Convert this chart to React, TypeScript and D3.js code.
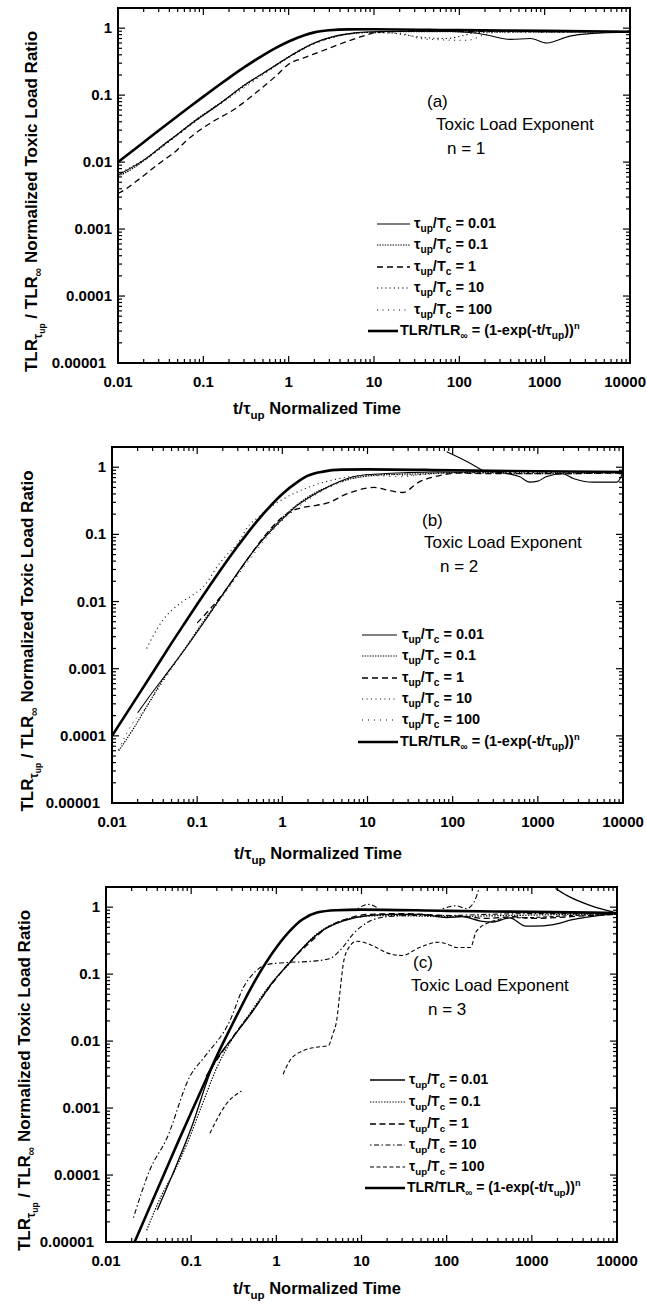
import React from "react";
import * as d3 from "d3";

type Pt = [number, number | null];

const X_TICK_VALUES = [0.01, 0.1, 1, 10, 100, 1000, 10000];
const X_TICK_LABELS = ["0.01", "0.1", "1", "10", "100", "1000", "10000"];
const Y_TICK_VALUES = [1, 0.1, 0.01, 0.001, 0.0001, 0.00001];
const Y_TICK_LABELS = ["1", "0.1", "0.01", "0.001", "0.0001", "0.00001"];
const TAU_RATIOS = ["0.01", "0.1", "1", "10", "100"];
const PANEL_LABELS = ["(a)", "(b)", "(c)"];
const EXPONENTS = ["1", "2", "3"];

// ---------- Panel (a), n = 1 ----------
const A_THEORY: Pt[] = [[0.01,0.01],[0.02,0.0198],[0.03,0.0296],[0.05,0.0488],[0.07,0.0676],[0.1,0.095],[0.15,0.139],[0.2,0.181],[0.3,0.259],[0.5,0.393],[0.7,0.503],[1,0.632],[1.5,0.777],[2,0.865],[3,0.93],[5,0.96],[10,0.965],[100,0.935],[1000,0.91],[10000,0.885]];
const A_TAU_001: Pt[] = [[0.01,0.0064],[0.02,0.0107],[0.04,0.021],[0.08,0.041],[0.15,0.072],[0.3,0.14],[0.6,0.245],[1,0.37],[2,0.6],[3.5,0.76],[6,0.85],[12,0.89],[50,0.9],[133,0.86],[210,0.79],[400,0.68],[680,0.7],[1060,0.6],[1970,0.76],[3400,0.83],[10000,0.87]];
const A_TAU_01: Pt[] = [[0.01,0.0062],[0.0121,0.0069],[0.0211,0.011],[0.0355,0.019],[0.048,0.025],[0.08,0.042],[0.12,0.06],[0.188,0.089],[0.29,0.137],[0.5,0.21],[0.86,0.33],[1.35,0.47],[2.15,0.62],[3.3,0.74],[5.6,0.83],[10.8,0.88],[30,0.89],[100,0.885],[1000,0.88],[10000,0.875]];
const A_TAU_1: Pt[] = [[0.01,0.0034],[0.0121,0.0039],[0.0158,0.005],[0.021,0.0066],[0.027,0.0085],[0.0355,0.011],[0.048,0.0147],[0.061,0.02],[0.08,0.0267],[0.12,0.038],[0.224,0.06],[0.42,0.11],[0.73,0.2],[1,0.29],[1.5,0.36],[2.5,0.46],[4,0.58],[7.4,0.76],[11,0.87],[30,0.9],[10000,0.88]];
const A_TAU_10: Pt[] = [[0.01,0.0066],[0.02,0.0108],[0.05,0.026],[0.1,0.051],[0.2,0.094],[0.5,0.21],[1,0.37],[2,0.6],[4,0.78],[8,0.86],[15,0.85],[25,0.78],[40,0.72],[70,0.7],[100,0.75],[150,0.85],[250,0.88],[10000,0.88]];
const A_TAU_100: Pt[] = [[0.01,0.006],[0.02,0.0104],[0.05,0.025],[0.1,0.049],[0.2,0.09],[0.5,0.2],[1,0.36],[2,0.58],[4,0.77],[8,0.86],[20,0.84],[35,0.7],[60,0.67],[95,0.66],[125,0.66],[200,0.8],[300,0.88],[10000,0.88]];

// ---------- Panel (b), n = 2 ----------
const B_THEORY: Pt[] = [[0.01,0.0001],[0.02,0.00039],[0.03,0.00087],[0.05,0.0024],[0.07,0.0046],[0.1,0.0091],[0.15,0.0194],[0.2,0.033],[0.3,0.067],[0.5,0.155],[0.7,0.253],[1,0.4],[1.5,0.6],[2,0.748],[3,0.86],[5,0.92],[10,0.93],[100,0.9],[1000,0.87],[10000,0.85]];
const B_TAU_001: Pt[] = [[0.02,0.00022],[0.03,0.00045],[0.045,0.00088],[0.075,0.0021],[0.13,0.0057],[0.24,0.018],[0.5,0.065],[0.96,0.16],[1.5,0.27],[2.5,0.41],[4,0.56],[7.5,0.74],[15,0.8],[30,0.83],[60,0.85],[120,0.85],[230,0.86],[400,0.82],[615,0.72],[800,0.6],[1000,0.62],[1250,0.72],[1950,0.8],[2600,0.68],[4500,0.6],[8500,0.6],[10000,0.85],[10000,null],[85,1.7],[150,1.2],[230,0.88]];
const B_TAU_01: Pt[] = [[0.012,0.00006],[0.018,0.00013],[0.025,0.00026],[0.04,0.0007],[0.07,0.0019],[0.12,0.0052],[0.22,0.015],[0.4,0.045],[0.7,0.11],[1.2,0.22],[2,0.36],[3.5,0.52],[6,0.66],[10,0.74],[20,0.78],[50,0.8],[100,0.83],[300,0.82],[1000,0.8],[10000,0.82]];
const B_TAU_1: Pt[] = [[0.1,0.0048],[0.2,0.013],[0.35,0.035],[0.6,0.09],[1,0.18],[1.5,0.24],[2.5,0.27],[3.6,0.3],[5.2,0.38],[7.5,0.45],[12,0.5],[18,0.45],[26,0.42],[40,0.6],[70,0.75],[110,0.82],[300,0.8],[1000,0.8],[10000,0.82]];
const B_TAU_10: Pt[] = [[0.0255,0.002],[0.0292,0.0028],[0.04,0.0054],[0.0516,0.0076],[0.0675,0.01],[0.0886,0.0125],[0.118,0.0166],[0.186,0.038],[0.222,0.049],[0.318,0.082],[0.38,0.122],[0.52,0.18],[0.65,0.23],[1,0.33],[2,0.5],[4,0.65],[8,0.75],[15,0.78],[30,0.76],[60,0.8],[150,0.83],[10000,0.84]];
const B_TAU_100: Pt[] = [[0.0119,0.000062],[0.0178,0.00016],[0.0237,0.00024],[0.035,0.0005],[0.06,0.0014],[0.1,0.0035],[0.2,0.012],[0.4,0.04],[0.8,0.12],[1.5,0.25],[3,0.45],[6,0.65],[12,0.75],[25,0.72],[50,0.8],[100,0.84],[10000,0.84]];

// ---------- Panel (c), n = 3 ----------
const C_THEORY: Pt[] = [[0.02,0.0000079],[0.03,0.000026],[0.05,0.000116],[0.07,0.00031],[0.1,0.00086],[0.15,0.0027],[0.2,0.006],[0.3,0.0171],[0.5,0.061],[0.7,0.127],[1,0.25],[1.5,0.465],[2,0.647],[3,0.83],[5,0.9],[10,0.92],[100,0.88],[1000,0.85],[10000,0.82]];
const C_TAU_001: Pt[] = [[0.04,0.00003],[0.06,0.0001],[0.1,0.0005],[0.18,0.0042],[0.31,0.0114],[0.53,0.028],[0.9,0.075],[1.44,0.15],[2.06,0.25],[3.5,0.45],[6,0.62],[12,0.75],[25,0.78],[50,0.78],[100,0.7],[150,0.72],[250,0.62],[350,0.6],[550,0.69],[850,0.52],[1030,0.52],[1800,0.55],[3000,0.65],[6000,0.75],[10000,0.8],[10000,null],[1900,1.9],[2570,1.5],[5200,1.03],[9000,0.85]];
const C_TAU_01: Pt[] = [[0.03,0.000015],[0.045,0.00005],[0.065,0.00012],[0.09,0.0003],[0.13,0.001],[0.2,0.004],[0.3,0.0105],[0.5,0.027],[0.85,0.07],[1.4,0.14],[2,0.24],[3,0.4],[5,0.58],[10,0.72],[20,0.75],[40,0.74],[100,0.72],[300,0.74],[1000,0.76],[10000,0.8]];
const C_TAU_1: Pt[] = [[0.15,0.003],[0.3,0.011],[0.5,0.026],[0.9,0.073],[1.5,0.16],[2.5,0.3],[4,0.5],[7,0.68],[12,0.78],[30,0.8],[80,0.76],[150,0.73],[300,0.68],[600,0.72],[1000,0.68],[2000,0.7],[4000,0.74],[10000,0.78]];
const C_TAU_10: Pt[] = [[0.021,0.000023],[0.0328,0.00012],[0.0516,0.00035],[0.097,0.003],[0.145,0.0059],[0.285,0.0201],[0.41,0.063],[0.58,0.112],[0.8,0.14],[1.44,0.15],[2.5,0.155],[4.2,0.17],[6,0.25],[8,0.4],[12,0.6],[20,0.72],[40,0.75],[100,0.75],[300,0.78],[1000,0.8],[10000,0.8],[10000,null],[9,0.95],[12,1.1],[16,0.95],[16,null],[90,0.95],[130,1.05],[170,0.95],[210,1.2],[240,1.9]];
const C_TAU_100: Pt[] = [[0.166,0.00042],[0.26,0.00116],[0.39,0.0018],[0.39,null],[1.2,0.0032],[1.44,0.0051],[2.06,0.0072],[2.96,0.0081],[4.1,0.0086],[4.6,0.0127],[5.1,0.02],[5.6,0.056],[6.1,0.14],[6.9,0.235],[8.8,0.31],[11.4,0.29],[14,0.26],[19.5,0.21],[30,0.19],[48,0.25],[80,0.3],[110,0.27],[130,0.25],[190,0.25],[224,0.44],[350,0.62],[550,0.69],[1000,0.7],[3000,0.75],[10000,0.78]];

const FONT = "'Liberation Sans', Arial, Helvetica, sans-serif";

type Seg = { t: string; o?: number; f?: number };

function Rich(props: { x: number; y: number; segs: Seg[]; size: number; weight?: string | number; anchor?: string; transform?: string }) {
  let cur = 0;
  return (
    <text x={props.x} y={props.y} fontSize={props.size} fontWeight={props.weight ?? "normal"} textAnchor={props.anchor ?? "start"} transform={props.transform} fontFamily={FONT} fill="#000">
      {props.segs.map((s, i) => {
        const off = s.o ?? 0;
        const dy = off - cur;
        cur = off;
        return (
          <tspan key={i} dy={dy} fontSize={s.f ? props.size * s.f : undefined}>
            {s.t}
          </tspan>
        );
      })}
    </text>
  );
}

interface Style { dash?: string; width: number }

interface PanelCfg {
  key: string;
  left: number; right: number; top: number; bottom: number;
  theory: Pt[]; series: Pt[][]; styles: Style[];
  annX: number[]; annY: number[]; annSize: number;
  legRows: number[]; legLineX: [number, number]; legTextX: number; legTheoryX: [number, number]; legTheoryTextX: number; legSize: number;
  yTitleX: number; xTitleX: number; xTitleY: number;
}

const PANELS: PanelCfg[] = [
  {
    key: "a", left: 118, right: 630, top: 8, bottom: 363,
    theory: A_THEORY, series: [A_TAU_001, A_TAU_01, A_TAU_1, A_TAU_10, A_TAU_100],
    styles: [{ width: 1.1 }, { dash: "1.4 1.2", width: 1.2 }, { dash: "6 4", width: 1.3 }, { dash: "1.2 3", width: 1.1 }, { dash: "1 4.5", width: 1 }],
    annX: [427, 436, 447], annY: [107, 130, 154], annSize: 17,
    legRows: [224, 245, 267, 288, 310, 331], legLineX: [377, 410], legTextX: 414, legTheoryX: [368, 398], legTheoryTextX: 400, legSize: 14.5,
    yTitleX: 37, xTitleX: 317, xTitleY: 414,
  },
  {
    key: "b", left: 112, right: 623, top: 447, bottom: 803,
    theory: B_THEORY, series: [B_TAU_001, B_TAU_01, B_TAU_1, B_TAU_10, B_TAU_100],
    styles: [{ width: 1.1 }, { dash: "1.4 1.2", width: 1.2 }, { dash: "6 4", width: 1.3 }, { dash: "1 3.5", width: 1.1 }, { dash: "1 5", width: 1 }],
    annX: [422, 424, 440], annY: [526, 548, 572], annSize: 17,
    legRows: [635, 656, 678, 699, 720, 742], legLineX: [362, 397], legTextX: 402, legTheoryX: [358, 398], legTheoryTextX: 400, legSize: 14.5,
    yTitleX: 33, xTitleX: 318, xTitleY: 859,
  },
  {
    key: "c", left: 106, right: 617, top: 887, bottom: 1242,
    theory: C_THEORY, series: [C_TAU_001, C_TAU_01, C_TAU_1, C_TAU_10, C_TAU_100],
    styles: [{ width: 1.3 }, { dash: "1.4 1.4", width: 1.2 }, { dash: "6 3.5", width: 1.3 }, { dash: "1.5 2.5 5 2.5", width: 1.1 }, { dash: "4 2.5", width: 1.1 }],
    annX: [413, 411, 428], annY: [968, 991, 1015], annSize: 17,
    legRows: [1080, 1102, 1124, 1145, 1167, 1188], legLineX: [370, 405], legTextX: 409, legTheoryX: [365, 405], legTheoryTextX: 407, legSize: 14,
    yTitleX: 30, xTitleX: 317, xTitleY: 1294,
  },
];

const W = 647;

function Panel({ cfg, idx }: { cfg: PanelCfg; idx: number }) {
  const x = d3.scaleLog().domain([0.01, 10000]).range([cfg.left, cfg.right]);
  const y = d3.scaleLog().domain([0.00001, 2]).range([cfg.bottom, cfg.top]);
  const line = d3
    .line<Pt>()
    .defined((d) => d[1] != null)
    .x((d) => x(d[0]))
    .y((d) => y(d[1] as number))
    .curve(d3.curveMonotoneX);

  const minorX: number[] = [];
  for (let e = -2; e < 4; e++) for (let m = 2; m <= 9; m++) minorX.push(m * Math.pow(10, e));
  const minorY: number[] = [];
  for (let e = -5; e <= 0; e++) for (let m = 2; m <= 9; m++) {
    const v = m * Math.pow(10, e);
    if (v <= 2) minorY.push(v);
  }
  const clipId = `clip-${cfg.key}`;
  const maj = 7, mnr = 4;
  const tickSize = 15;

  return (
    <g>
      <defs>
        <clipPath id={clipId}>
          <rect x={cfg.left} y={cfg.top} width={cfg.right - cfg.left} height={cfg.bottom - cfg.top} />
        </clipPath>
      </defs>
      {/* ticks */}
      <g stroke="#000" strokeWidth={1.2}>
        {X_TICK_VALUES.map((v) => (
          <g key={"xM" + v}>
            <line x1={x(v)} x2={x(v)} y1={cfg.bottom} y2={cfg.bottom - maj} />
            <line x1={x(v)} x2={x(v)} y1={cfg.top} y2={cfg.top + maj} />
          </g>
        ))}
        {minorX.map((v) => (
          <g key={"xm" + v}>
            <line x1={x(v)} x2={x(v)} y1={cfg.bottom} y2={cfg.bottom - mnr} />
            <line x1={x(v)} x2={x(v)} y1={cfg.top} y2={cfg.top + mnr} />
          </g>
        ))}
        {Y_TICK_VALUES.map((v) => (
          <g key={"yM" + v}>
            <line x1={cfg.left} x2={cfg.left + maj} y1={y(v)} y2={y(v)} />
            <line x1={cfg.right} x2={cfg.right - maj} y1={y(v)} y2={y(v)} />
          </g>
        ))}
        {minorY.map((v) => (
          <g key={"ym" + v}>
            <line x1={cfg.left} x2={cfg.left + mnr} y1={y(v)} y2={y(v)} />
            <line x1={cfg.right} x2={cfg.right - mnr} y1={y(v)} y2={y(v)} />
          </g>
        ))}
      </g>
      <rect x={cfg.left} y={cfg.top} width={cfg.right - cfg.left} height={cfg.bottom - cfg.top} fill="none" stroke="#000" strokeWidth={2} />

      {/* tick labels */}
      {X_TICK_VALUES.map((v, i) => {
        const label = X_TICK_LABELS[i];
        const half = (label.replace(".", "").length * 0.556 + (label.includes(".") ? 0.278 : 0)) * tickSize / 2;
        const overflow = x(v) + half > W - 1;
        return (
          <text key={"xl" + v} x={overflow ? W - 1 : x(v)} y={cfg.bottom + 24} textAnchor={overflow ? "end" : "middle"} fontSize={tickSize} fontWeight="bold" fontFamily={FONT}>
            {label}
          </text>
        );
      })}
      {Y_TICK_VALUES.map((v, i) => (
        <text key={"yl" + v} x={cfg.left - (i === Y_TICK_VALUES.length - 1 ? 12 : 6)} y={y(v) + 5} textAnchor="end" fontSize={tickSize} fontWeight="bold" fontFamily={FONT}>
          {Y_TICK_LABELS[i]}
        </text>
      ))}

      {/* series */}
      <g clipPath={`url(#${clipId})`} fill="none" stroke="#000">
        {cfg.series.map((s, i) => (
          <path key={i} d={line(s) || ""} strokeWidth={cfg.styles[i].width} strokeDasharray={cfg.styles[i].dash} />
        ))}
        <path d={line(cfg.theory) || ""} strokeWidth={2.6} />
      </g>

      {/* annotations */}
      <text x={cfg.annX[0]} y={cfg.annY[0]} fontSize={cfg.annSize} fontFamily={FONT}>{PANEL_LABELS[idx]}</text>
      <text x={cfg.annX[1]} y={cfg.annY[1]} fontSize={cfg.annSize} fontFamily={FONT}>Toxic Load Exponent</text>
      <text x={cfg.annX[2]} y={cfg.annY[2]} fontSize={cfg.annSize} fontFamily={FONT}>{`n = ${EXPONENTS[idx]}`}</text>

      {/* legend */}
      {TAU_RATIOS.map((r, i) => (
        <g key={"lg" + r}>
          <line x1={cfg.legLineX[0]} x2={cfg.legLineX[1]} y1={cfg.legRows[i]} y2={cfg.legRows[i]} stroke="#000" strokeWidth={cfg.styles[i].width} strokeDasharray={cfg.styles[i].dash} />
          <Rich
            x={cfg.legTextX}
            y={cfg.legRows[i] + 4}
            size={cfg.legSize}
            weight="bold"
            segs={[{ t: "τ" }, { t: "up", o: 4, f: 0.7 }, { t: "/T", o: 0 }, { t: "c", o: 4, f: 0.7 }, { t: ` = ${r}`, o: 0 }]}
          />
        </g>
      ))}
      <line x1={cfg.legTheoryX[0]} x2={cfg.legTheoryX[1]} y1={cfg.legRows[5]} y2={cfg.legRows[5]} stroke="#000" strokeWidth={2.6} />
      <Rich
        x={cfg.legTheoryTextX}
        y={cfg.legRows[5] + 4}
        size={cfg.legSize}
        weight="bold"
        segs={[
          { t: "TLR/TLR" },
          { t: "∞", o: 4, f: 0.7 },
          { t: " = (1-exp(-t/τ", o: 0 },
          { t: "up", o: 4, f: 0.7 },
          { t: "))", o: 0 },
          { t: "n", o: -6, f: 0.65 },
        ]}
      />

      {/* axis titles */}
      <Rich
        x={cfg.xTitleX}
        y={cfg.xTitleY}
        size={16.5}
        weight="bold"
        anchor="middle"
        segs={[{ t: "t/τ" }, { t: "up", o: 5, f: 0.7 }, { t: " Normalized Time", o: 0 }]}
      />
      <Rich
        x={0}
        y={0}
        size={17}
        weight="bold"
        anchor="middle"
        transform={`translate(${cfg.yTitleX},${(cfg.top + cfg.bottom) / 2 + 16}) rotate(-90)`}
        segs={[
          { t: "TLR" },
          { t: "τ", o: 5, f: 0.7 },
          { t: "up", o: 8, f: 0.5 },
          { t: " / TLR", o: 0 },
          { t: "∞", o: 5, f: 0.7 },
          { t: " Normalized Toxic Load Ratio", o: 0 },
        ]}
      />
    </g>
  );
}

export default function App() {
  return (
    <svg width={647} height={1305} style={{ position: "absolute", left: 0, top: 0, background: "#fff" }} fontFamily={FONT}>
      <rect x={0} y={0} width={647} height={1305} fill="#fff" />
      {PANELS.map((p, i) => (
        <Panel key={p.key} cfg={p} idx={i} />
      ))}
    </svg>
  );
}
